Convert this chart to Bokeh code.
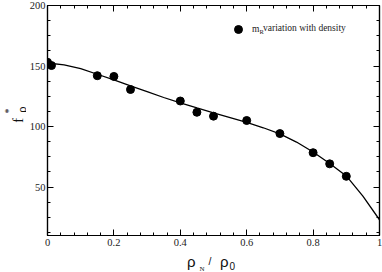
import math
from bokeh.plotting import figure
from bokeh.layouts import column, row
from bokeh.models import Range1d, LinearAxis, FixedTicker, Label, Legend, LegendItem, CustomJSTickFormatter
from bokeh.embed import file_html
from bokeh.resources import INLINE

# measured points
density = [0.0, 0.012, 0.15, 0.2, 0.25, 0.4, 0.45, 0.5, 0.6, 0.7, 0.8, 0.85, 0.9]
f_rho = [153.1, 150.4, 142.0, 141.4, 130.6, 121.1, 111.8, 108.6, 105.0, 94.2, 78.4, 69.2, 58.9]

# fitted curve samples
fit_density = [0.0, 0.05, 0.1, 0.15, 0.2, 0.25, 0.3, 0.35, 0.4, 0.45, 0.5,
               0.55, 0.6, 0.65, 0.7, 0.75, 0.8, 0.85, 0.9, 0.95, 1.0]
fit_f = [152.5, 151.0, 147.8, 143.2, 138.6, 133.6, 128.8, 124.0, 119.6, 115.4, 111.4,
         107.4, 103.4, 99.0, 94.0, 87.2, 79.0, 69.5, 59.2, 42.5, 23.0]

x_major = [0.0, 0.2, 0.4, 0.6, 0.8, 1.0]
x_minor = [0.04, 0.08, 0.12, 0.16, 0.24, 0.28, 0.32, 0.36, 0.44, 0.48, 0.52, 0.56,
           0.64, 0.68, 0.72, 0.76, 0.84, 0.88, 0.92, 0.96]
y_major = [50, 100, 150, 200]
y_minor = [12.5, 25, 37.5, 62.5, 75, 87.5, 112.5, 125, 137.5, 162.5, 175, 187.5]

SERIF = "Liberation Serif"
SANS = "Liberation Sans"
INK = "#111111"

YW = 26      # width of the strip holding the y title
PH = 250     # height of the main plot
XH = 22      # height of the strip holding the x title

p = figure(width=382 - YW, height=PH, x_range=Range1d(0, 1), y_range=Range1d(10, 200),
           output_backend="svg", toolbar_location=None,
           min_border_left=47 - YW, min_border_right=3, min_border_top=5, min_border_bottom=15)
p.grid.visible = False
p.outline_line_color = "black"
p.outline_line_width = 1.2

xt = FixedTicker(ticks=x_major, minor_ticks=x_minor)
yt = FixedTicker(ticks=y_major, minor_ticks=y_minor)


def style(ax, labels=True):
    ax.axis_line_color = "black"
    ax.axis_line_width = 1.2
    ax.major_tick_in = 6
    ax.major_tick_out = 0
    ax.minor_tick_in = 3
    ax.minor_tick_out = 0
    ax.major_tick_line_color = "black"
    ax.minor_tick_line_color = "black"
    ax.axis_label = None
    if labels:
        ax.major_label_text_font = SERIF
        ax.major_label_text_font_size = "10.5px"
        ax.major_label_text_color = "#222222"
    else:
        ax.formatter = CustomJSTickFormatter(code="return ''")
        ax.major_label_standoff = 0


p.xaxis.ticker = xt
p.yaxis.ticker = yt
style(p.xaxis[0])
style(p.yaxis[0])
p.xaxis.major_label_overrides = {0: "0", 1: "1"}
p.xaxis.major_label_standoff = 3
p.yaxis.major_label_standoff = 2

top = LinearAxis(ticker=xt)
style(top, labels=False)
p.add_layout(top, "above")
right = LinearAxis(ticker=yt)
style(right, labels=False)
p.add_layout(right, "right")

p.line(fit_density, fit_f, line_color="black", line_width=1.3)
pts = p.scatter(density, f_rho, size=8, color="black")

legend = Legend(items=[LegendItem(label="m", renderers=[pts])], location=(181, 196),
                padding=0, margin=0, spacing=0, glyph_width=20, glyph_height=20,
                label_height=20, label_standoff=4, border_line_color=None,
                background_fill_alpha=0, label_text_font=SERIF,
                label_text_font_size="9.5px", label_text_color="#222222")
p.add_layout(legend)


def lab(text, px, py, size, font, align="left", baseline="middle"):
    # page pixel -> main frame screen units (frame left 47, bottom 235 on page)
    p.add_layout(Label(x=px - 47, y=235 - py, x_units="screen", y_units="screen",
                       text=text, text_font=font, text_font_size=size,
                       text_align=align, text_baseline=baseline, text_color="#222222"))


lab("R", 259, 31, "6.5px", SERIF)
lab("variation with density", 262.5, 27.5, "9.5px", SERIF)


def strip(w, h):
    f = figure(width=w, height=h, x_range=Range1d(0, w), y_range=Range1d(0, h),
               output_backend="svg", toolbar_location=None, x_axis_type=None,
               y_axis_type=None, min_border=0)
    f.grid.visible = False
    f.outline_line_color = None
    return f


# y title strip (page x = data x, page y = PH - data y)
yfig = strip(YW, PH)
for text, px, py, size, font in [("f", 17, 127.5, "14.5px", SERIF),
                                 ("ρ", 21, 116.5, "11px", SANS),
                                 ("*", 8, 117.5, "10px", SERIF)]:
    yfig.add_layout(Label(x=px, y=PH - py, text=text, text_font=font, text_font_size=size,
                          angle=math.pi / 2, text_align="left", text_baseline="alphabetic",
                          text_color=INK))

# x title strip (page y = 272 - data y)
xfig = strip(382, XH)
for text, px, py, size, font in [("ρ", 186.5, 261, "15px", SANS),
                                 ("N", 199, 268.5, "7px", SERIF),
                                 ("/", 208, 260, "10.5px", SANS),
                                 ("ρ", 219.5, 261, "15px", SANS),
                                 ("0", 229, 265, "10px", SANS)]:
    xfig.add_layout(Label(x=px, y=272 - py, text=text, text_font=font, text_font_size=size,
                          text_align="left", text_baseline="alphabetic", text_color=INK))

layout = column(row(yfig, p, spacing=0), xfig, spacing=0)
open("out.html", "w").write(file_html(layout, INLINE))
